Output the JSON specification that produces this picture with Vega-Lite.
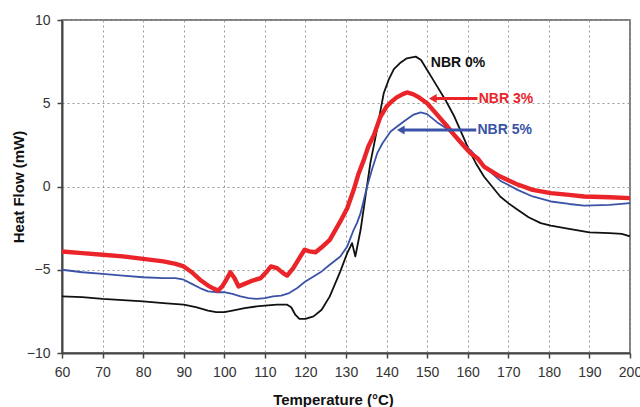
{
  "$schema": "https://vega.github.io/schema/vega-lite/v6.json",
  "width": 568,
  "height": 333,
  "autosize": "none",
  "padding": {"left": 62, "top": 20, "right": 10, "bottom": 54},
  "background": "white",
  "config": {
    "view": {"stroke": "#555", "strokeWidth": 1.5},
    "font": "Liberation Sans",
    "axis": {
      "domainColor": "#444",
      "domainWidth": 2,
      "tickColor": "#444",
      "tickWidth": 1.5,
      "gridColor": "#999",
      "gridDash": [2, 3],
      "gridWidth": 1,
      "labelFont": "Liberation Sans",
      "labelColor": "#333",
      "labelFontSize": 14,
      "titleFont": "Liberation Sans",
      "titleFontSize": 15,
      "titleFontWeight": "bold",
      "titleColor": "#111"
    }
  },
  "datasets": {
    "curves": [
      {"s": "NBR 0%", "T": 60, "V": -6.6}, {"s": "NBR 0%", "T": 65, "V": -6.65}, {"s": "NBR 0%", "T": 70, "V": -6.75}, {"s": "NBR 0%", "T": 75, "V": -6.82}, {"s": "NBR 0%", "T": 80, "V": -6.9}, {"s": "NBR 0%", "T": 85, "V": -7.0}, {"s": "NBR 0%", "T": 90, "V": -7.1}, {"s": "NBR 0%", "T": 93, "V": -7.25}, {"s": "NBR 0%", "T": 96, "V": -7.45}, {"s": "NBR 0%", "T": 98, "V": -7.55}, {"s": "NBR 0%", "T": 100, "V": -7.55}, {"s": "NBR 0%", "T": 102, "V": -7.45}, {"s": "NBR 0%", "T": 105, "V": -7.3}, {"s": "NBR 0%", "T": 108, "V": -7.2}, {"s": "NBR 0%", "T": 110, "V": -7.15}, {"s": "NBR 0%", "T": 113, "V": -7.1}, {"s": "NBR 0%", "T": 115.5, "V": -7.1}, {"s": "NBR 0%", "T": 116.5, "V": -7.25}, {"s": "NBR 0%", "T": 117.5, "V": -7.7}, {"s": "NBR 0%", "T": 118.5, "V": -7.95}, {"s": "NBR 0%", "T": 120, "V": -7.95}, {"s": "NBR 0%", "T": 122, "V": -7.8}, {"s": "NBR 0%", "T": 124, "V": -7.4}, {"s": "NBR 0%", "T": 126, "V": -6.6}, {"s": "NBR 0%", "T": 128.6, "V": -5.1}, {"s": "NBR 0%", "T": 130.3, "V": -4.0}, {"s": "NBR 0%", "T": 131.5, "V": -3.4}, {"s": "NBR 0%", "T": 132.3, "V": -4.2}, {"s": "NBR 0%", "T": 133.6, "V": -2.6}, {"s": "NBR 0%", "T": 134.8, "V": -0.6}, {"s": "NBR 0%", "T": 136, "V": 1.4}, {"s": "NBR 0%", "T": 137.3, "V": 3.0}, {"s": "NBR 0%", "T": 138.3, "V": 4.3}, {"s": "NBR 0%", "T": 139.3, "V": 5.6}, {"s": "NBR 0%", "T": 140.5, "V": 6.4}, {"s": "NBR 0%", "T": 141.8, "V": 7.05}, {"s": "NBR 0%", "T": 143.5, "V": 7.45}, {"s": "NBR 0%", "T": 145, "V": 7.7}, {"s": "NBR 0%", "T": 147.2, "V": 7.8}, {"s": "NBR 0%", "T": 148.5, "V": 7.6}, {"s": "NBR 0%", "T": 150, "V": 7.0}, {"s": "NBR 0%", "T": 151, "V": 6.6}, {"s": "NBR 0%", "T": 152.5, "V": 6.0}, {"s": "NBR 0%", "T": 154.5, "V": 5.2}, {"s": "NBR 0%", "T": 156.6, "V": 4.25}, {"s": "NBR 0%", "T": 158.5, "V": 3.2}, {"s": "NBR 0%", "T": 160.3, "V": 2.2}, {"s": "NBR 0%", "T": 162, "V": 1.4}, {"s": "NBR 0%", "T": 164, "V": 0.6}, {"s": "NBR 0%", "T": 166, "V": 0.0}, {"s": "NBR 0%", "T": 168, "V": -0.6}, {"s": "NBR 0%", "T": 170, "V": -1.0}, {"s": "NBR 0%", "T": 172.3, "V": -1.4}, {"s": "NBR 0%", "T": 175, "V": -1.85}, {"s": "NBR 0%", "T": 178, "V": -2.2}, {"s": "NBR 0%", "T": 180.5, "V": -2.35}, {"s": "NBR 0%", "T": 185, "V": -2.55}, {"s": "NBR 0%", "T": 190, "V": -2.75}, {"s": "NBR 0%", "T": 195, "V": -2.8}, {"s": "NBR 0%", "T": 198, "V": -2.85}, {"s": "NBR 0%", "T": 200, "V": -3.0},

      {"s": "NBR 5%", "T": 60, "V": -5.0}, {"s": "NBR 5%", "T": 65, "V": -5.15}, {"s": "NBR 5%", "T": 70, "V": -5.25}, {"s": "NBR 5%", "T": 75, "V": -5.35}, {"s": "NBR 5%", "T": 80, "V": -5.45}, {"s": "NBR 5%", "T": 85, "V": -5.5}, {"s": "NBR 5%", "T": 88, "V": -5.5}, {"s": "NBR 5%", "T": 90, "V": -5.6}, {"s": "NBR 5%", "T": 92, "V": -5.85}, {"s": "NBR 5%", "T": 94, "V": -6.1}, {"s": "NBR 5%", "T": 96, "V": -6.3}, {"s": "NBR 5%", "T": 98, "V": -6.35}, {"s": "NBR 5%", "T": 100, "V": -6.35}, {"s": "NBR 5%", "T": 102, "V": -6.45}, {"s": "NBR 5%", "T": 104, "V": -6.6}, {"s": "NBR 5%", "T": 106, "V": -6.7}, {"s": "NBR 5%", "T": 108, "V": -6.75}, {"s": "NBR 5%", "T": 110, "V": -6.7}, {"s": "NBR 5%", "T": 112, "V": -6.6}, {"s": "NBR 5%", "T": 114, "V": -6.55}, {"s": "NBR 5%", "T": 116, "V": -6.4}, {"s": "NBR 5%", "T": 118, "V": -6.1}, {"s": "NBR 5%", "T": 120, "V": -5.7}, {"s": "NBR 5%", "T": 122, "V": -5.4}, {"s": "NBR 5%", "T": 124, "V": -5.1}, {"s": "NBR 5%", "T": 126, "V": -4.7}, {"s": "NBR 5%", "T": 128.6, "V": -4.2}, {"s": "NBR 5%", "T": 130.3, "V": -3.6}, {"s": "NBR 5%", "T": 131.9, "V": -2.6}, {"s": "NBR 5%", "T": 132.7, "V": -2.2}, {"s": "NBR 5%", "T": 133.6, "V": -1.6}, {"s": "NBR 5%", "T": 135.2, "V": 0.0}, {"s": "NBR 5%", "T": 136.5, "V": 1.1}, {"s": "NBR 5%", "T": 137.7, "V": 2.0}, {"s": "NBR 5%", "T": 139, "V": 2.6}, {"s": "NBR 5%", "T": 141, "V": 3.3}, {"s": "NBR 5%", "T": 142.6, "V": 3.6}, {"s": "NBR 5%", "T": 144.5, "V": 3.95}, {"s": "NBR 5%", "T": 146.5, "V": 4.3}, {"s": "NBR 5%", "T": 148.4, "V": 4.45}, {"s": "NBR 5%", "T": 150, "V": 4.35}, {"s": "NBR 5%", "T": 152.5, "V": 3.85}, {"s": "NBR 5%", "T": 155, "V": 3.45}, {"s": "NBR 5%", "T": 157, "V": 2.95}, {"s": "NBR 5%", "T": 159, "V": 2.55}, {"s": "NBR 5%", "T": 161, "V": 2.1}, {"s": "NBR 5%", "T": 163, "V": 1.55}, {"s": "NBR 5%", "T": 165, "V": 1.0}, {"s": "NBR 5%", "T": 168, "V": 0.35}, {"s": "NBR 5%", "T": 172.3, "V": -0.2}, {"s": "NBR 5%", "T": 176, "V": -0.6}, {"s": "NBR 5%", "T": 180.5, "V": -0.9}, {"s": "NBR 5%", "T": 185, "V": -1.05}, {"s": "NBR 5%", "T": 188.7, "V": -1.15}, {"s": "NBR 5%", "T": 195, "V": -1.1}, {"s": "NBR 5%", "T": 200, "V": -1.0},

      {"s": "NBR 3%", "T": 60, "V": -3.9}, {"s": "NBR 3%", "T": 65, "V": -4.0}, {"s": "NBR 3%", "T": 70, "V": -4.1}, {"s": "NBR 3%", "T": 75, "V": -4.2}, {"s": "NBR 3%", "T": 80, "V": -4.35}, {"s": "NBR 3%", "T": 85, "V": -4.5}, {"s": "NBR 3%", "T": 88, "V": -4.65}, {"s": "NBR 3%", "T": 90, "V": -4.8}, {"s": "NBR 3%", "T": 92, "V": -5.15}, {"s": "NBR 3%", "T": 94, "V": -5.6}, {"s": "NBR 3%", "T": 96, "V": -5.95}, {"s": "NBR 3%", "T": 97.5, "V": -6.15}, {"s": "NBR 3%", "T": 98.5, "V": -6.25}, {"s": "NBR 3%", "T": 99.5, "V": -6.0}, {"s": "NBR 3%", "T": 100.5, "V": -5.6}, {"s": "NBR 3%", "T": 101.5, "V": -5.15}, {"s": "NBR 3%", "T": 102.5, "V": -5.5}, {"s": "NBR 3%", "T": 103.5, "V": -6.0}, {"s": "NBR 3%", "T": 105, "V": -5.85}, {"s": "NBR 3%", "T": 107, "V": -5.65}, {"s": "NBR 3%", "T": 109, "V": -5.5}, {"s": "NBR 3%", "T": 110.5, "V": -5.1}, {"s": "NBR 3%", "T": 111.5, "V": -4.8}, {"s": "NBR 3%", "T": 113, "V": -4.9}, {"s": "NBR 3%", "T": 114.5, "V": -5.2}, {"s": "NBR 3%", "T": 115.5, "V": -5.35}, {"s": "NBR 3%", "T": 117, "V": -4.9}, {"s": "NBR 3%", "T": 118.5, "V": -4.3}, {"s": "NBR 3%", "T": 119.8, "V": -3.8}, {"s": "NBR 3%", "T": 121, "V": -3.9}, {"s": "NBR 3%", "T": 122.5, "V": -3.95}, {"s": "NBR 3%", "T": 124, "V": -3.65}, {"s": "NBR 3%", "T": 126, "V": -3.2}, {"s": "NBR 3%", "T": 128.6, "V": -2.1}, {"s": "NBR 3%", "T": 130.3, "V": -1.3}, {"s": "NBR 3%", "T": 131.9, "V": -0.2}, {"s": "NBR 3%", "T": 133, "V": 0.7}, {"s": "NBR 3%", "T": 134.4, "V": 1.6}, {"s": "NBR 3%", "T": 135.5, "V": 2.4}, {"s": "NBR 3%", "T": 136.9, "V": 3.1}, {"s": "NBR 3%", "T": 138.5, "V": 4.2}, {"s": "NBR 3%", "T": 140, "V": 4.8}, {"s": "NBR 3%", "T": 141, "V": 5.05}, {"s": "NBR 3%", "T": 142.5, "V": 5.35}, {"s": "NBR 3%", "T": 144, "V": 5.55}, {"s": "NBR 3%", "T": 145, "V": 5.65}, {"s": "NBR 3%", "T": 146.5, "V": 5.55}, {"s": "NBR 3%", "T": 148, "V": 5.35}, {"s": "NBR 3%", "T": 150, "V": 5.0}, {"s": "NBR 3%", "T": 152.5, "V": 4.3}, {"s": "NBR 3%", "T": 155, "V": 3.6}, {"s": "NBR 3%", "T": 157, "V": 3.0}, {"s": "NBR 3%", "T": 159, "V": 2.45}, {"s": "NBR 3%", "T": 160.7, "V": 2.0}, {"s": "NBR 3%", "T": 162.4, "V": 1.7}, {"s": "NBR 3%", "T": 164, "V": 1.2}, {"s": "NBR 3%", "T": 166, "V": 0.9}, {"s": "NBR 3%", "T": 168, "V": 0.6}, {"s": "NBR 3%", "T": 172, "V": 0.15}, {"s": "NBR 3%", "T": 176, "V": -0.2}, {"s": "NBR 3%", "T": 180.5, "V": -0.4}, {"s": "NBR 3%", "T": 185, "V": -0.5}, {"s": "NBR 3%", "T": 188.7, "V": -0.6}, {"s": "NBR 3%", "T": 195, "V": -0.65}, {"s": "NBR 3%", "T": 200, "V": -0.7}
    ],
    "arrows": [
      {"s": "NBR 3%", "T1": 151.2, "T2": 162.4, "V": 5.28, "tip": 151.4},
      {"s": "NBR 5%", "T1": 143.3, "T2": 162.1, "V": 3.39, "tip": 143.5}
    ],
    "labels": [
      {"s": "NBR 0%", "T": 150.9, "V": 7.4, "label": "NBR 0%"},
      {"s": "NBR 3%", "T": 162.7, "V": 5.28, "label": "NBR 3%"},
      {"s": "NBR 5%", "T": 162.4, "V": 3.39, "label": "NBR 5%"}
    ]
  },
  "layer": [
    {
      "data": {"name": "curves"},
      "mark": {"type": "line", "interpolate": "linear", "strokeJoin": "round"},
      "encoding": {
        "x": {
          "field": "T", "type": "quantitative",
          "scale": {"domain": [60, 200], "nice": false, "zero": false},
          "axis": {
            "title": "Temperature (°C)",
            "values": [60, 65, 70, 75, 80, 85, 90, 95, 100, 105, 110, 115, 120, 125, 130, 135, 140, 145, 150, 155, 160, 165, 170, 175, 180, 185, 190, 195, 200],
            "labelExpr": "datum.value % 10 === 0 ? datum.label : ''",
            "tickSize": {"condition": {"test": "datum.value % 10 !== 0", "value": 3}, "value": 5},
            "gridOpacity": {"condition": {"test": "datum.value % 10 !== 0", "value": 0}, "value": 1},
            "labelPadding": 7,
            "labelFlush": false,
            "labelOverlap": false,
            "titleX": 271,
            "titleY": 46,
            "titleAlign": "center",
            "titleBaseline": "middle"
          }
        },
        "y": {
          "field": "V", "type": "quantitative",
          "scale": {"domain": [-10, 10], "nice": false},
          "axis": {
            "title": "Heat Flow (mW)",
            "values": [-10, -5, 0, 5, 10],
            "tickSize": 5,
            "labelPadding": 7,
            "titleX": -43.5,
            "titleY": 166.5,
            "titleAngle": -90,
            "titleAlign": "center",
            "titleBaseline": "middle"
          }
        },
        "color": {
          "field": "s", "type": "nominal",
          "scale": {"domain": ["NBR 0%", "NBR 3%", "NBR 5%"], "range": ["#111111", "#ea2429", "#3a53a8"]},
          "legend": null
        },
        "strokeWidth": {
          "field": "s", "type": "nominal",
          "scale": {"type": "ordinal", "domain": ["NBR 0%", "NBR 3%", "NBR 5%"], "range": [1.8, 4.4, 1.8]},
          "legend": null
        }
      }
    },
    {
      "data": {"name": "arrows"},
      "mark": {"type": "rule", "strokeWidth": 3},
      "encoding": {
        "x": {"field": "T1", "type": "quantitative"},
        "x2": {"field": "T2"},
        "y": {"field": "V", "type": "quantitative"},
        "color": {"field": "s", "type": "nominal", "legend": null}
      }
    },
    {
      "data": {"name": "arrows"},
      "mark": {"type": "point", "shape": "triangle-left", "filled": true, "size": 80, "opacity": 1},
      "encoding": {
        "x": {"field": "tip", "type": "quantitative"},
        "y": {"field": "V", "type": "quantitative"},
        "color": {"field": "s", "type": "nominal", "legend": null}
      }
    },
    {
      "data": {"name": "labels"},
      "mark": {"type": "text", "align": "left", "baseline": "middle", "fontWeight": "bold", "fontSize": 14, "font": "Liberation Sans"},
      "encoding": {
        "x": {"field": "T", "type": "quantitative"},
        "y": {"field": "V", "type": "quantitative"},
        "text": {"field": "label"},
        "color": {"field": "s", "type": "nominal", "legend": null}
      }
    }
  ]
}
